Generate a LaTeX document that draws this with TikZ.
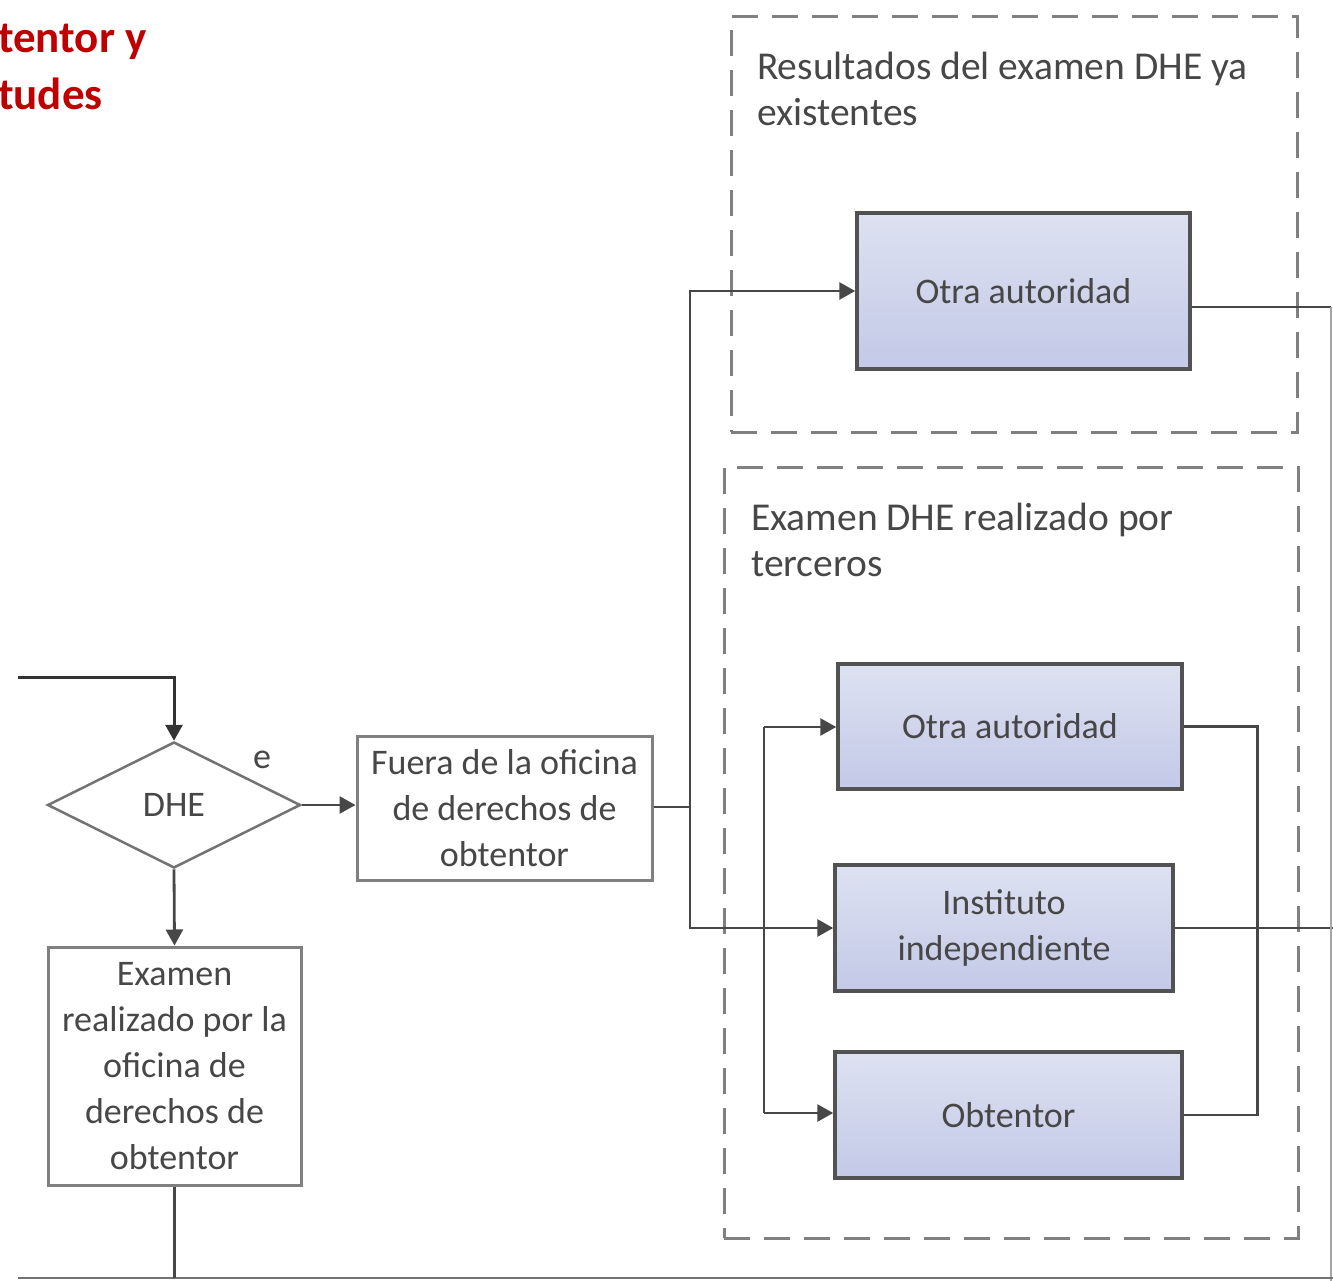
\documentclass[tikz,border=0pt]{standalone}
\usepackage{fontspec}
\setmainfont{Carlito}
\usetikzlibrary{shapes.geometric,arrows.meta}
\definecolor{blueTop}{HTML}{DDE1F1}
\definecolor{blueBot}{HTML}{C3C9E7}
\definecolor{redTitle}{HTML}{C00000}
\begin{document}
\begin{tikzpicture}[x=1pt,y=-1pt,
  lbl/.style={text=black!72, font=\fontsize{36}{46}\selectfont, align=center, inner sep=0pt},
  grouplbl/.style={lbl, font=\fontsize{39.5}{46}\selectfont, align=left, anchor=north west},
  bluebox/.style={lbl, draw=black!68, line width=3.5pt, top color=blueTop, bottom color=blueBot},
  whitebox/.style={lbl, draw=black!50, line width=3pt, fill=white},
  decision/.style={lbl, diamond, aspect=2, draw=black!55, line width=2.5pt, fill=white},
  groupbox/.style={draw=black!50, line width=3pt, dash pattern=on 26pt off 14pt, inner sep=0pt},
  flow/.style={draw=black!72, line width=2.8pt},
  arr/.style={-{Triangle[length=16pt,width=17pt]}}]
\useasboundingbox (0,0) rectangle (1333,1281);

% title fragment
\node[font=\bfseries\fontsize{45}{57}\selectfont, text=redTitle, anchor=north west,
      align=left, inner sep=0pt] (title) at (-2,24) {tentor y\\tudes};

% dashed groups
\node[groupbox, minimum width=566pt, minimum height=415pt] (g1) at (1014,224.5) {};
\node[groupbox, minimum width=574pt, minimum height=771pt] (g2) at (1011,852.5) {};
\node[grouplbl] (g1t) at (757,52) {Resultados del examen DHE ya\\existentes};
\node[grouplbl] (g2t) at (751,503) {Examen DHE realizado por\\terceros};

% boxes
\node[bluebox, minimum width=333pt, minimum height=156pt] (ota1) at (1023.5,291) {Otra autoridad};
\node[bluebox, minimum width=344pt, minimum height=125pt] (ota2) at (1010,726.5) {Otra autoridad};
\node[bluebox, minimum width=338pt, minimum height=126pt] (inst) at (1004,928) {Instituto\\independiente};
\node[bluebox, minimum width=347pt, minimum height=126pt] (obt) at (1008.5,1115) {Obtentor};
\node[whitebox, minimum width=295pt, minimum height=144pt] (fuera) at (504.5,808) {Fuera de la oficina\\de derechos de\\obtentor};
\node[whitebox, minimum width=253pt, minimum height=238pt] (exam) at (174.5,1066) {Examen\\realizado por la\\oficina de\\derechos de\\obtentor};
\node[decision, minimum width=253pt, minimum height=126pt] (dhe) at (174,805) {DHE};
\node[lbl] (elbl) at (262,760) {e};

% junction points and free ends
\coordinate (inL) at (18,677);
\coordinate (busA) at (690,807);
\coordinate (busB1) at (764,727);
\coordinate (busB2) at (764,1113);
\coordinate (outI) at (1333,925);
\coordinate (outO) at (1331,307);
\coordinate (outOb) at (1331,1281);
\coordinate (bl) at (18,1278);
\coordinate (br) at (1333,1278);

% connectors
\draw[flow, draw=black!80, line width=3pt, arr] (inL) -| (dhe.north);
\draw[flow, arr] (dhe.east) -- (dhe.east -| fuera.west);
\draw[flow, arr] (dhe.south) -- (exam.north);
\draw[flow] (fuera.east |- busA) -- (busA);
\draw[flow, arr] (busA) |- (ota1.west);
\draw[flow, arr] (busA) |- (inst.west);
\draw[flow] (busB1) -- (busB2);
\draw[flow, arr] (busB1) -- (busB1 -| ota2.west);
\draw[flow, arr] (busB2) -- (busB2 -| obt.west);
\draw[flow] (ota2.east) -- ++(74,0) |- (obt.east);
\draw[flow] (inst.east) -- (inst.east -| outI);
\draw[flow] (outO -| ota1.east) -- (outO);
\draw[flow, draw=black!35] (outO) -- (outOb);
\draw[flow, draw=black!55] (bl) -- (br);
\draw[flow] (exam.south) -- (exam.south |- bl);
\end{tikzpicture}
\end{document}
